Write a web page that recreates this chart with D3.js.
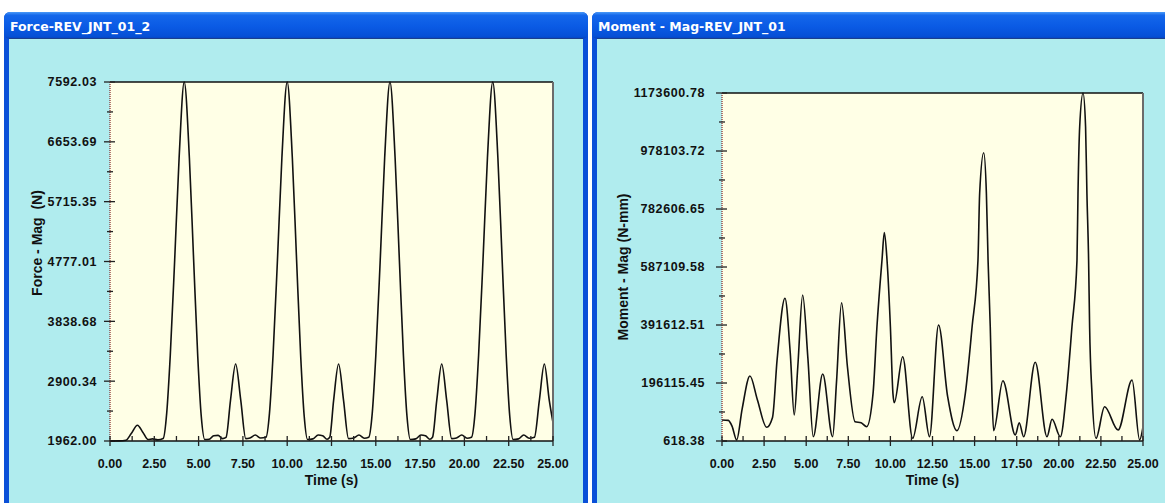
<!DOCTYPE html>
<html>
<head>
<meta charset="utf-8">
<script src="https://cdn.jsdelivr.net/npm/d3@7"></script>
<style>
	body { margin: 0; background: #fff; }
	svg { display: block; }
	.tick-label { font-family: "Liberation Sans", Arial, sans-serif; font-weight: bold; font-size: 12.5px; fill: #111; }
	.axis-title { font-family: "Liberation Sans", Arial, sans-serif; font-weight: bold; font-size: 14px; fill: #111; }
	.win-title { font-family: "DejaVu Sans", Verdana, sans-serif; font-weight: bold; font-size: 12.5px; fill: #fff; }
</style>
</head>
<body>
<svg id="chart" width="1165" height="503"></svg>
<script>
// time axis (s)
let timeTicks		= [0, 2.5, 5, 7.5, 10, 12.5, 15, 17.5, 20, 22.5, 25];

// Force - Mag (N)
let forceTicks		= [1962.00, 2900.34, 3838.68, 4777.01, 5715.35, 6653.69, 7592.03];
let forceTime		= [0, 0.5, 0.9, 1.2, 1.55, 1.85, 2.15, 2.4, 2.7, 3.0, 3.2, 3.4, 3.65, 3.9, 4.19, 4.48, 4.72, 4.95, 5.15, 5.35,
	5.6, 5.85, 6.1, 6.35, 6.55, 6.8, 7.09, 7.38, 7.66, 7.9, 8.2, 8.5, 8.8, 9.0, 9.2, 9.45, 9.7, 10.0, 10.29, 10.53, 10.76, 10.96, 11.15,
	11.45, 11.75, 12.0, 12.25, 12.4, 12.62, 12.9, 13.18, 13.46, 13.75, 14.05, 14.35, 14.6, 14.8, 15.0, 15.25, 15.5, 15.8, 16.09, 16.33, 16.56, 16.76, 16.95,
	17.25, 17.55, 17.8, 18.05, 18.2, 18.44, 18.72, 19.0, 19.28, 19.55, 19.85, 20.15, 20.4, 20.6, 20.8, 21.05, 21.3, 21.6, 21.89, 22.13, 22.36, 22.56, 22.75,
	23.05, 23.35, 23.65, 23.95, 24.23, 24.51, 24.79, 25.0];
let forceValue		= [1962, 1964, 1975, 2080, 2210, 2100, 1985, 1995, 1980, 2000, 2400, 3300, 4800, 6400, 7592, 6400, 4800, 3300, 2350, 1985,
	1990, 2045, 2050, 2000, 2020, 2600, 3169, 2600, 2000, 2010, 2055, 2010, 2020, 2400, 3300, 4800, 6400, 7592, 6400, 4800, 3300, 2350, 1985,
	1995, 2055, 2045, 1990, 2020, 2600, 3169, 2600, 2000, 2010, 2055, 2005, 2020, 2400, 3300, 4800, 6400, 7592, 6400, 4800, 3300, 2350, 1985,
	1995, 2055, 2045, 1990, 2020, 2600, 3169, 2600, 2000, 2010, 2055, 2005, 2020, 2400, 3300, 4800, 6400, 7592, 6400, 4800, 3300, 2350, 1985,
	1995, 2055, 2005, 2020, 2600, 3169, 2600, 2250];

// Moment - Mag (N-mm)
let momentTicks		= [618.38, 196115.45, 391612.51, 587109.58, 782606.65, 978103.72, 1173600.78];
let momentTime		= [0, 0.37, 0.6, 0.87, 1.2, 1.66, 2.1, 2.65, 3.0, 3.27, 3.74, 4.05, 4.29, 4.5, 4.79, 5.1, 5.42, 5.98, 6.57, 6.8, 7.1, 7.45,
	7.9, 8.26, 8.59, 8.97, 9.2, 9.5, 9.64, 9.8, 10.0, 10.15, 10.23, 10.73, 11.32, 11.89, 12.32, 12.86, 13.4, 13.95, 14.45, 14.85, 15.2, 15.3,
	15.54, 15.7, 15.8, 15.93, 16.03, 16.13, 16.68, 17.42, 17.65, 17.91, 18.6, 19.3, 19.6, 20.09, 20.45, 20.78, 21.08, 21.14, 21.24, 21.44,
	21.59, 21.67, 21.77, 21.83, 21.97, 22.21, 22.72, 23.52, 24.35, 24.8, 25.0];
let momentValue		= [71400, 70000, 50000, 4000, 110000, 219700, 140000, 46800, 80000, 273000, 481600, 300000, 88300, 250000, 492700, 280000, 15100, 226500, 15100, 200000, 466800, 250000,
	65700, 62000, 48800, 161000, 385000, 610000, 703000, 610000, 385000, 161000, 129700, 284800, 9700, 149900, 15100, 391600, 150000, 35300, 161000, 385000, 610000, 835000,
	972000, 835000, 610000, 385000, 161000, 35300, 203800, 20800, 62300, 15100, 265900, 15100, 73800, 15100, 161000, 385000, 610000, 835000, 1060000, 1173600,
	1060000, 835000, 610000, 385000, 161000, 9700, 116200, 37700, 206200, 4000, 48000];

let svg	= d3.select("#chart");
let defs	= svg.append("defs");

let grad = defs.append("linearGradient").attr("id", "titlebar").attr("x1", 0).attr("y1", 0).attr("x2", 0).attr("y2", 1);
grad.append("stop").attr("offset", "0%").attr("stop-color", "#4a9af8");
grad.append("stop").attr("offset", "12%").attr("stop-color", "#1467ea");
grad.append("stop").attr("offset", "55%").attr("stop-color", "#0a5ae4");
grad.append("stop").attr("offset", "90%").attr("stop-color", "#0650d6");
grad.append("stop").attr("offset", "100%").attr("stop-color", "#0540b8");

function drawWindow(x, w, title) {
	let g = svg.append("g");

	g.append("rect")
		.attr("x", x).attr("y", 12).attr("width", w).attr("height", 503)
		.attr("rx", 6).attr("fill", "#0a4fd8");

	g.append("rect")
		.attr("x", x).attr("y", 12).attr("width", w).attr("height", 27)
		.attr("rx", 6).attr("fill", "url(#titlebar)");

	g.append("rect")
		.attr("x", x + 5).attr("y", 38).attr("width", w - 10).attr("height", 1)
		.attr("fill", "#1c3f8c");

	g.append("rect")
		.attr("x", x + 5).attr("y", 39).attr("width", w - 10).attr("height", 470)
		.attr("fill", "#b0ecee");

	g.append("text")
		.attr("class", "win-title")
		.attr("x", x + 6).attr("y", 31)
		.text(title);
}

function drawPanel(o) {
	let x = d3.scaleLinear().domain([0, 25]).range([o.left, o.right]);
	let y = d3.scaleLinear().domain([o.ticks[0], o.ticks[o.ticks.length - 1]]).range([o.bottom, o.top]);

	let g = svg.append("g");

	// plot area
	g.append("rect")
		.attr("x", o.left).attr("y", o.top)
		.attr("width", o.right - o.left).attr("height", o.bottom - o.top)
		.attr("fill", "#ffffe6");

	defs.append("clipPath").attr("id", o.id + "-clip")
		.append("rect")
		.attr("x", o.left).attr("y", o.top - 1)
		.attr("width", o.right - o.left).attr("height", o.bottom - o.top + 2);

	let data = _zip(o.time, o.value);

	let line = d3.line()
		.x((d) => x(d.t))
		.y((d) => y(d.v))
		.curve(d3.curveMonotoneX);

	g.append("path")
		.datum(data)
		.attr("clip-path", "url(#" + o.id + "-clip)")
		.attr("fill", "none")
		.attr("stroke", "#111")
		.attr("stroke-width", 1.6)
		.attr("d", line);

	// frame: top black, right grey, left dotted maroon
	g.append("line")
		.attr("x1", o.left).attr("x2", o.right).attr("y1", o.top).attr("y2", o.top)
		.attr("stroke", "#111").attr("stroke-width", 1.5);
	g.append("line")
		.attr("x1", o.right).attr("x2", o.right).attr("y1", o.top).attr("y2", o.bottom)
		.attr("stroke", "#6b6b6b").attr("stroke-width", 2);
	g.append("line")
		.attr("x1", o.left).attr("x2", o.left).attr("y1", o.top).attr("y2", o.bottom)
		.attr("stroke", "#8a3030").attr("stroke-width", 1.3).attr("stroke-dasharray", "1,1");

	// y ticks (major crossing, minor halfway)
	let yMinor = d3.pairs(o.ticks).map((p) => (p[0] + p[1]) / 2);

	g.selectAll(".ymaj")
		.data(o.ticks)
		.enter().append("line")
			.attr("x1", o.left - 6).attr("x2", o.left + 5)
			.attr("y1", (d) => y(d)).attr("y2", (d) => y(d))
			.attr("stroke", "#222").attr("stroke-width", 1.3);

	g.selectAll(".ymin")
		.data(yMinor)
		.enter().append("line")
			.attr("x1", o.left - 3).attr("x2", o.left + 3)
			.attr("y1", (d) => y(d)).attr("y2", (d) => y(d))
			.attr("stroke", "#222").attr("stroke-width", 1.3);

	g.selectAll(".ylab")
		.data(o.ticks)
		.enter().append("text")
			.attr("class", "tick-label")
			.attr("x", o.left - o.labelGap)
			.attr("y", (d) => y(d))
			.attr("dy", "0.35em")
			.attr("text-anchor", "end")
			.style("letter-spacing", "0.6px")
			.text((d) => d3.format(".2f")(d));

	// x axis
	g.append("line")
		.attr("x1", o.left).attr("x2", o.right).attr("y1", o.bottom).attr("y2", o.bottom)
		.attr("stroke", "#111").attr("stroke-width", 1.6);

	let xMinor = d3.pairs(timeTicks).map((p) => (p[0] + p[1]) / 2);

	g.selectAll(".xmaj")
		.data(timeTicks)
		.enter().append("line")
			.attr("x1", (d) => x(d)).attr("x2", (d) => x(d))
			.attr("y1", o.bottom - 5).attr("y2", o.bottom + 5)
			.attr("stroke", "#222").attr("stroke-width", 1.3);

	g.selectAll(".xmin")
		.data(xMinor)
		.enter().append("line")
			.attr("x1", (d) => x(d)).attr("x2", (d) => x(d))
			.attr("y1", o.bottom - 5).attr("y2", o.bottom)
			.attr("stroke", "#222").attr("stroke-width", 1.3);

	g.selectAll(".xlab")
		.data(timeTicks)
		.enter().append("text")
			.attr("class", "tick-label")
			.attr("x", (d) => x(d))
			.attr("y", o.bottom + 27)
			.attr("text-anchor", "middle")
			.text((d) => d3.format(".2f")(d));

	g.append("text")
		.attr("class", "axis-title")
		.attr("x", (o.left + o.right) / 2)
		.attr("y", o.bottom + 44)
		.attr("text-anchor", "middle")
		.text("Time (s)");

	g.append("text")
		.attr("class", "axis-title")
		.attr("transform", "translate(" + o.yTitleX + "," + o.yTitleY + ") rotate(-90)")
		.attr("text-anchor", "middle")
		.style("white-space", "pre")
		.attr("xml:space", "preserve")
		.text(o.yTitle);
}

function _zip(t, v) { return t.map((d, i) => ({ t: d, v: v[i] })); }

drawWindow(4, 584, "Force-REV_JNT_01_2");
drawWindow(592, 590, "Moment - Mag-REV_JNT_01");

drawPanel({ id: "force", left: 110, right: 553, top: 82, bottom: 441, labelGap: 13,
	ticks: forceTicks, time: forceTime, value: forceValue,
	yTitle: "Force - Mag  (N)", yTitleX: 42, yTitleY: 243 });

drawPanel({ id: "moment", left: 722, right: 1143, top: 93, bottom: 441, labelGap: 17,
	ticks: momentTicks, time: momentTime, value: momentValue,
	yTitle: "Moment - Mag (N-mm)", yTitleX: 628, yTitleY: 267 });
</script>
</body>
</html>
